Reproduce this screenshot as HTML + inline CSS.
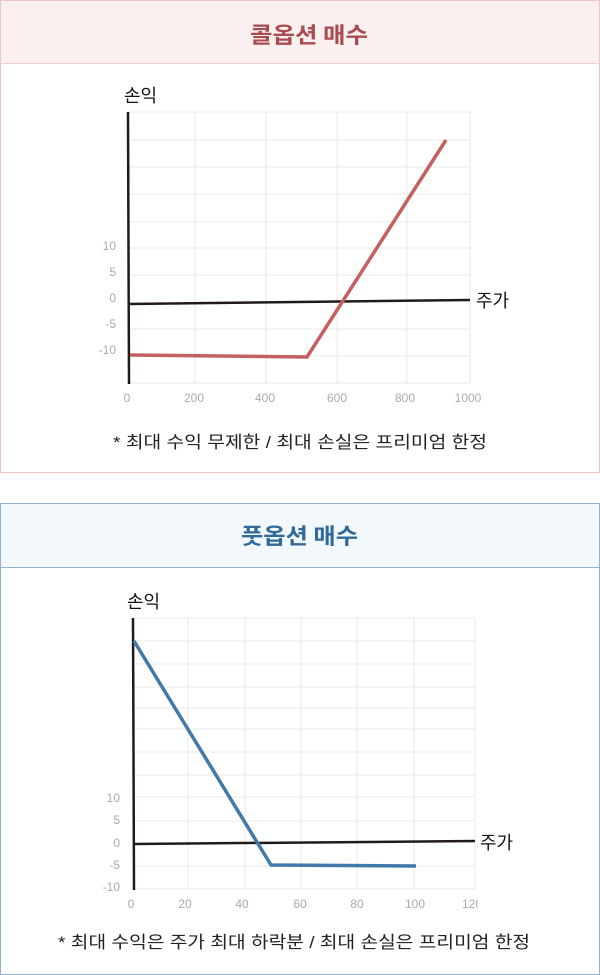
<!DOCTYPE html>
<html><head><meta charset="utf-8"><style>
html,body{margin:0;padding:0;background:#fff;}
svg{display:block;font-family:"Liberation Sans","Noto Sans CJK KR",sans-serif;}
</style></head><body>
<svg width="600" height="975" viewBox="0 0 600 975" xmlns="http://www.w3.org/2000/svg">
<!-- Panel 1 -->
<rect x="0.5" y="0.5" width="599" height="472" fill="#fff" stroke="#f0c4c6"/>
<rect x="1" y="1" width="598" height="62" fill="#fbf0f0"/>
<line x1="0" y1="63.5" x2="600" y2="63.5" stroke="#f0cfd0"/>
<text x="250" y="43" font-size="22" font-weight="bold" fill="#a84c4f" font-family="Noto Sans CJK KR,sans-serif" textLength="118" lengthAdjust="spacingAndGlyphs">콜옵션 매수</text>
<g stroke="#e8e8e8" stroke-width="1">
<line x1="195" y1="112" x2="195" y2="383"/><line x1="266" y1="112" x2="266" y2="383"/><line x1="337" y1="112" x2="337" y2="383"/><line x1="407" y1="112" x2="407" y2="383"/><line x1="470" y1="112" x2="470" y2="383"/>
<line x1="128" y1="112" x2="470" y2="112"/><line x1="128" y1="140" x2="470" y2="140"/><line x1="128" y1="167" x2="470" y2="167"/><line x1="128" y1="194" x2="470" y2="194"/><line x1="128" y1="222" x2="470" y2="222"/><line x1="128" y1="248" x2="470" y2="248"/><line x1="128" y1="275" x2="470" y2="275"/><line x1="128" y1="329" x2="470" y2="329"/><line x1="128" y1="356" x2="470" y2="356"/><line x1="128" y1="383" x2="470" y2="383"/>
</g>
<line x1="128" y1="112" x2="129" y2="384" stroke="#221a1a" stroke-width="2.5"/>
<line x1="129" y1="304" x2="470" y2="300" stroke="#221a1a" stroke-width="2.5"/>
<polyline points="130,355 307,357 446,140" fill="none" stroke="#c4605f" stroke-width="3.5"/>
<g font-size="12" fill="#aaa" text-anchor="end">
<text x="116" y="250">10</text><text x="116" y="276">5</text><text x="116" y="302">0</text><text x="116" y="328">-5</text><text x="116" y="354">-10</text>
</g>
<g font-size="12" fill="#aaa" text-anchor="middle">
<text x="127" y="402">0</text><text x="194" y="402">200</text><text x="265" y="402">400</text><text x="337" y="402">600</text><text x="405" y="402">800</text><text x="468" y="402">1000</text>
</g>
<text x="124" y="102" font-size="18" fill="#111">손익</text>
<text x="476" y="307" font-size="18" fill="#111">주가</text>
<text x="113" y="448" font-size="17" fill="#222" textLength="374" lengthAdjust="spacingAndGlyphs">* 최대 수익 무제한 / 최대 손실은 프리미엄 한정</text>

<!-- Panel 2 -->
<rect x="0.5" y="503.5" width="599" height="471" fill="#fff" stroke="#8fb4d8"/>
<rect x="1" y="504" width="598" height="63" fill="#f3f8fd"/>
<line x1="0" y1="567.5" x2="600" y2="567.5" stroke="#8fb4d8"/>
<text x="241" y="544" font-size="22" font-weight="bold" fill="#2f6a9a" font-family="Noto Sans CJK KR,sans-serif" textLength="117" lengthAdjust="spacingAndGlyphs">풋옵션 매수</text>
<g stroke="#e8e8e8" stroke-width="1">
<line x1="188" y1="618" x2="188" y2="890"/><line x1="245" y1="618" x2="245" y2="890"/><line x1="301" y1="618" x2="301" y2="890"/><line x1="357" y1="618" x2="357" y2="890"/><line x1="414" y1="618" x2="414" y2="890"/><line x1="475" y1="618" x2="475" y2="890"/>
<line x1="133" y1="618" x2="475" y2="618"/><line x1="133" y1="641" x2="475" y2="641"/><line x1="133" y1="664" x2="475" y2="664"/><line x1="133" y1="687" x2="475" y2="687"/><line x1="133" y1="708" x2="475" y2="708"/><line x1="133" y1="729" x2="475" y2="729"/><line x1="133" y1="752" x2="475" y2="752"/><line x1="133" y1="775" x2="475" y2="775"/><line x1="133" y1="797" x2="475" y2="797"/><line x1="133" y1="821" x2="475" y2="821"/><line x1="133" y1="866" x2="475" y2="866"/><line x1="133" y1="889" x2="475" y2="889"/>
</g>
<line x1="133" y1="618" x2="134" y2="890" stroke="#221a1a" stroke-width="2.5"/>
<line x1="134" y1="844" x2="475" y2="841" stroke="#221a1a" stroke-width="2.5"/>
<polyline points="134,641 271,865 416,866" fill="none" stroke="#4279ac" stroke-width="3.5"/>
<g font-size="12" fill="#aaa" text-anchor="end">
<text x="120" y="802">10</text><text x="120" y="824">5</text><text x="120" y="847">0</text><text x="120" y="869">-5</text><text x="120" y="891">-10</text>
</g>
<g font-size="12" fill="#aaa" text-anchor="middle">
<text x="131" y="908">0</text><text x="185" y="908">20</text><text x="242" y="908">40</text><text x="300" y="908">60</text><text x="357" y="908">80</text><text x="415" y="908">100</text>
</g>
<svg x="460" y="895" width="18" height="18"><text x="12" y="13" font-size="12" fill="#aaa" text-anchor="middle">120</text></svg>
<text x="127" y="608" font-size="18" fill="#111">손익</text>
<text x="480" y="849" font-size="18" fill="#111">주가</text>
<text x="58" y="948" font-size="17" fill="#222" textLength="472" lengthAdjust="spacingAndGlyphs">* 최대 수익은 주가 최대 하락분 / 최대 손실은 프리미엄 한정</text>
</svg>
</body></html>
